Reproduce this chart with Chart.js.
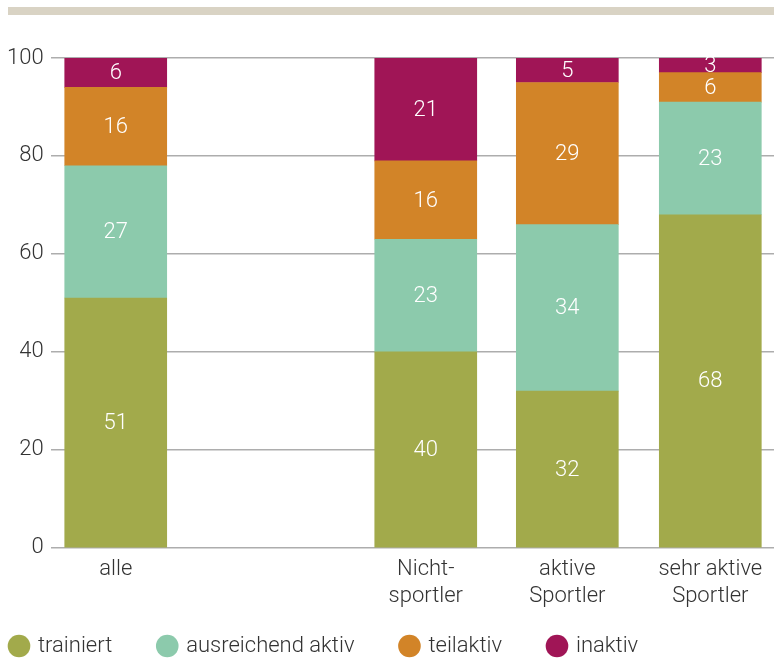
<!DOCTYPE html>
<html>
<head>
<meta charset="utf-8">
<script src="https://cdn.jsdelivr.net/npm/chart.js@4"></script>
<style>
  html, body { margin: 0; padding: 0; background: #fff; }
  #wrap { position: relative; width: 774px; height: 662px; }
  #topbar { position: absolute; left: 8px; top: 7px; width: 766px; height: 8px; background: #d9d3c4; }
  #chart { position: absolute; left: 0; top: 0; }
</style>
</head>
<body>
<div id="wrap">
  <div id="topbar"></div>
  <canvas id="chart" width="774" height="662"></canvas>
</div>
<script>
// groups along the x axis
const categories = [["alle"], ["Nicht-", "sportler"], ["aktive", "Sportler"], ["sehr aktive", "Sportler"]];
const xPos = [0, 2.19, 3.19, 4.2];

// shares in percent
const trainiert = [51, 40, 32, 68];
const ausreichend = [27, 23, 34, 23];
const teilaktiv = [16, 16, 29, 6];
const inaktiv = [6, 21, 5, 3];

const yTicks = [0, 20, 40, 60, 80, 100];

const FONT = "Roboto, 'DejaVu Sans', sans-serif";
const LEGEND_PAD = 47;

function points(values) {
  return values.map((v, i) => ({ x: xPos[i], y: v }));
}

// white value labels in the middle of each segment, legend placed at the bottom left
const barLabels = {
  id: "barLabels",
  afterLayout(chart) {
    chart.legend.left = 11 - LEGEND_PAD;
    chart.legend.top = 646 - 11 - LEGEND_PAD;
  },
  afterDatasetsDraw(chart) {
    const ctx = chart.ctx;
    ctx.save();
    ctx.fillStyle = "#fff";
    ctx.font = "300 22px " + FONT;
    ctx.textAlign = "center";
    ctx.textBaseline = "middle";
    chart.data.datasets.forEach((ds, di) => {
      chart.getDatasetMeta(di).data.forEach((bar, i) => {
        const y = (bar.y + bar.base) / 2;
        ctx.fillText(String(ds.data[i].y), bar.x, y + 1);
      });
    });
    ctx.restore();
  }
};

const ctx = document.getElementById("chart");
new Chart(ctx, {
  type: "bar",
  data: {
    datasets: [
      { label: "trainiert", data: points(trainiert), backgroundColor: "#a2aa4b" },
      { label: "ausreichend aktiv", data: points(ausreichend), backgroundColor: "#8ccaac" },
      { label: "teilaktiv", data: points(teilaktiv), backgroundColor: "#d28428" },
      { label: "inaktiv", data: points(inaktiv), backgroundColor: "#a01556" }
    ]
  },
  options: {
    responsive: false,
    animation: false,
    layout: { padding: { top: 58, left: 0, right: 0, bottom: 0 } },
    datasets: { bar: { barThickness: 102 } },
    scales: {
      x: {
        type: "linear",
        min: -0.46,
        max: 4.65,
        offset: false,
        stacked: true,
        grid: { display: false },
        border: { display: false },
        afterBuildTicks: axis => { axis.ticks = xPos.map(v => ({ value: v })); },
        ticks: {
          autoSkip: false,
          maxRotation: 0,
          padding: 0,
          color: "#333",
          font: { family: FONT, size: 22, weight: "300", lineHeight: 1.23 },
          callback: value => {
            const i = xPos.indexOf(value);
            return i >= 0 ? categories[i] : "";
          }
        }
      },
      y: {
        min: 0,
        max: 100,
        stacked: true,
        border: { display: false },
        grid: { color: "#adadad", lineWidth: 1.5, drawTicks: false },
        afterBuildTicks: axis => { axis.ticks = yTicks.map(v => ({ value: v })); },
        ticks: {
          padding: 7,
          color: "#333",
          font: { family: FONT, size: 22, weight: "300" }
        }
      }
    },
    plugins: {
      legend: {
        position: "bottom",
        align: "start",
        maxHeight: 52,
        labels: {
          usePointStyle: true,
          pointStyle: "circle",
          boxHeight: 16,
          boxWidth: 16,
          padding: LEGEND_PAD,
          color: "#333",
          font: { family: FONT, size: 22, weight: "300" }
        }
      },
      tooltip: { enabled: false }
    }
  },
  plugins: [barLabels]
});
</script>
</body>
</html>
